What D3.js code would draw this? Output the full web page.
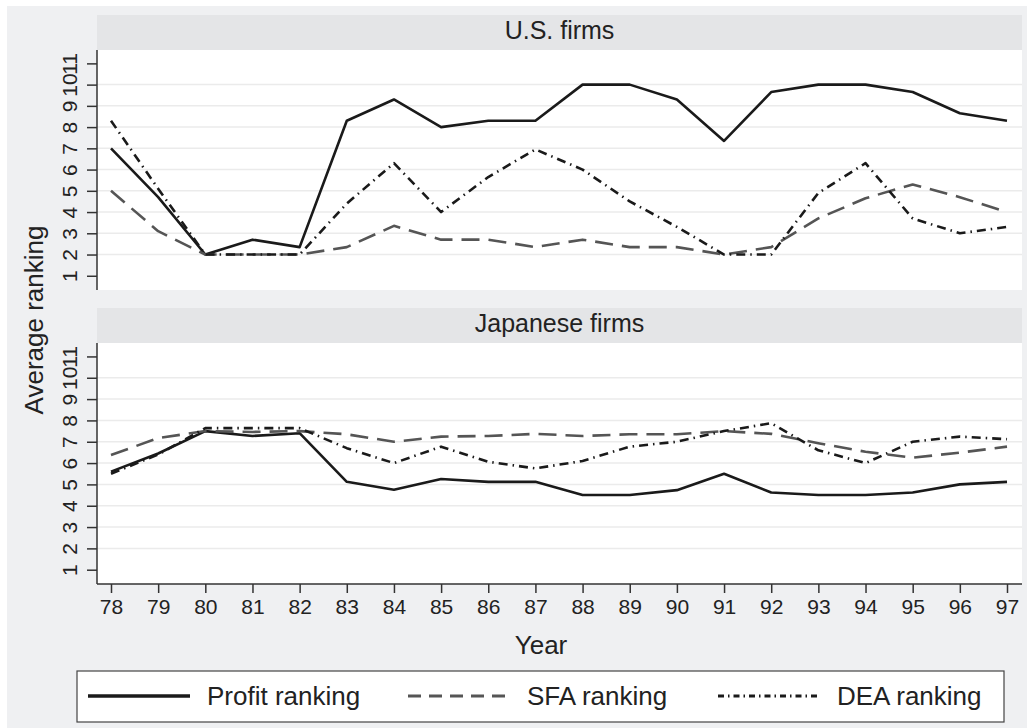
<!DOCTYPE html>
<html>
<head>
<meta charset="utf-8">
<script src="https://cdn.jsdelivr.net/npm/d3@7"></script>
<style>
  body { margin: 0; background: #fff; }
  svg { display: block; font-family: "Liberation Sans", Arial, Helvetica, sans-serif; }
  .grid line { stroke: #ebebeb; stroke-width: 1.5; }
  .axis path, .axis line { stroke: #333; stroke-width: 1.5; }
  .axis text { fill: #222; font-size: 21px; }
</style>
</head>
<body>
<div id="chart"></div>
<script>
// data
const years = [78, 79, 80, 81, 82, 83, 84, 85, 86, 87, 88, 89, 90, 91, 92, 93, 94, 95, 96, 97];
const yTicks = [1, 2, 3, 4, 5, 6, 7, 8, 9, 10, 11];
const gridTicks = [2, 3, 4, 5, 6, 7, 8, 9, 10];

const usProfit = [7.0, 4.7, 2.0, 2.7, 2.35, 8.3, 9.3, 8.0, 8.3, 8.3, 10.0, 10.0, 9.3, 7.35, 9.65, 10.0, 10.0, 9.65, 8.65, 8.3];
const usSFA    = [5.0, 3.1, 2.0, 2.0, 2.0, 2.35, 3.35, 2.7, 2.7, 2.35, 2.7, 2.35, 2.35, 2.0, 2.35, 3.7, 4.65, 5.3, 4.7, 4.0];
const usDEA    = [8.3, 5.1, 2.0, 2.0, 2.0, 4.4, 6.3, 4.0, 5.65, 6.95, 6.0, 4.5, 3.3, 2.0, 2.0, 4.9, 6.3, 3.7, 3.0, 3.3];

const jpProfit = [5.6, 6.45, 7.5, 7.27, 7.4, 5.12, 4.75, 5.25, 5.12, 5.12, 4.5, 4.5, 4.73, 5.5, 4.62, 4.5, 4.5, 4.62, 5.0, 5.12];
const jpSFA    = [6.38, 7.17, 7.5, 7.46, 7.5, 7.35, 7.0, 7.24, 7.27, 7.37, 7.27, 7.35, 7.35, 7.5, 7.37, 6.93, 6.53, 6.25, 6.49, 6.77];
const jpDEA    = [5.5, 6.4, 7.64, 7.64, 7.64, 6.7, 6.0, 6.77, 6.06, 5.75, 6.1, 6.77, 7.0, 7.5, 7.87, 6.6, 6.0, 7.0, 7.24, 7.12];

const panelTitles = ["U.S. firms", "Japanese firms"];
const seriesNames = ["Profit ranking", "SFA ranking", "DEA ranking"];

const width = 1027, height = 728;
const plotLeft = 97, plotRight = 1022;

// panel geometry: strip on top, plot area below
const panels = [
  { title: panelTitles[0], stripTop: 15, plotTop: 50, plotBottom: 290, series: [usProfit, usSFA, usDEA] },
  { title: panelTitles[1], stripTop: 308, plotTop: 343, plotBottom: 584, series: [jpProfit, jpSFA, jpDEA] }
];

const styles = [
  { stroke: "#1a1a1a", dash: null, width: 2.6 },
  { stroke: "#555", dash: "18,9", width: 2.6 },
  { stroke: "#1a1a1a", dash: "9,5,1.5,5", width: 2.6 }
];

const xScale = d3.scaleLinear()
  .domain([78, 97])
  .range([111, 1007]);

const svg = d3.select("#chart")
  .append("svg")
    .attr("width", width)
    .attr("height", height)
    .attr("viewBox", `0 0 ${width} ${height}`);

// outer background
svg.append("rect")
  .attr("x", 7).attr("y", 6)
  .attr("width", width - 7).attr("height", height - 6)
  .attr("fill", "#eff0f2");

panels.forEach((p, pi) => {
  const yScale = d3.scaleLinear()
    .domain([0.33, 11.63])
    .range([p.plotBottom, p.plotTop]);

  // strip
  svg.append("rect")
    .attr("x", plotLeft).attr("y", p.stripTop)
    .attr("width", plotRight - plotLeft).attr("height", p.plotTop - p.stripTop)
    .attr("fill", "#e4e5e7");

  svg.append("text")
    .attr("x", (plotLeft + plotRight) / 2)
    .attr("y", p.plotTop - 11)
    .attr("text-anchor", "middle")
    .attr("font-size", 25)
    .attr("fill", "#222")
    .text(p.title);

  // plot area
  svg.append("rect")
    .attr("x", plotLeft).attr("y", p.plotTop)
    .attr("width", plotRight - plotLeft).attr("height", p.plotBottom - p.plotTop)
    .attr("fill", "#fff");

  // grid
  svg.append("g")
    .attr("class", "grid")
    .selectAll("line")
    .data(gridTicks)
    .enter()
    .append("line")
      .attr("x1", plotLeft)
      .attr("x2", plotRight)
      .attr("y1", d => yScale(d))
      .attr("y2", d => yScale(d));

  // y axis
  const yAxis = svg.append("g")
    .attr("class", "axis")
    .attr("transform", `translate(${plotLeft},0)`)
    .call(d3.axisLeft(yScale).tickValues(yTicks).tickSize(10).tickSizeOuter(0));

  yAxis.select(".domain")
    .attr("d", `M0,${p.plotTop}V${p.plotBottom}`);

  yAxis.selectAll(".tick text")
    .attr("transform", "rotate(-90)")
    .attr("x", 0)
    .attr("y", -20)
    .attr("dy", 0)
    .style("text-anchor", "middle");

  // lines
  const line = d3.line()
    .x((d, i) => xScale(years[i]))
    .y(d => yScale(d));

  p.series.forEach((s, si) => {
    svg.append("path")
      .datum(s)
      .attr("fill", "none")
      .attr("stroke", styles[si].stroke)
      .attr("stroke-width", styles[si].width)
      .attr("stroke-dasharray", styles[si].dash)
      .attr("stroke-linejoin", "round")
      .attr("d", line);
  });

  // x axis only under the bottom panel
  if (pi === panels.length - 1) {
    const xAxis = svg.append("g")
      .attr("class", "axis")
      .attr("transform", `translate(0,${p.plotBottom})`)
      .call(d3.axisBottom(xScale).tickValues(years).tickSize(9).tickSizeOuter(0).tickFormat(d3.format("d")));

    xAxis.select(".domain")
      .attr("d", `M${plotLeft},0H${plotRight}`);

    xAxis.selectAll(".tick text")
      .attr("y", 15)
      .attr("dy", "0.71em");
  }
});

// axis titles
svg.append("text")
  .attr("transform", "translate(43,320) rotate(-90)")
  .attr("text-anchor", "middle")
  .attr("font-size", 26)
  .attr("fill", "#222")
  .text("Average ranking");

svg.append("text")
  .attr("x", 541)
  .attr("y", 654)
  .attr("text-anchor", "middle")
  .attr("font-size", 26)
  .attr("fill", "#222")
  .text("Year");

// legend
const legend = svg.append("g");
legend.append("rect")
  .attr("x", 77).attr("y", 671)
  .attr("width", 927).attr("height", 51)
  .attr("fill", "#fff")
  .attr("stroke", "#444")
  .attr("stroke-width", 1.2);

const legendX = [88, 408, 718];
const legendItems = legend.selectAll("g.item")
  .data(seriesNames)
  .enter()
  .append("g")
    .attr("class", "item")
    .attr("transform", (d, i) => `translate(${legendX[i]},696)`);

legendItems.append("line")
  .attr("x1", 0).attr("x2", 102)
  .attr("y1", 0).attr("y2", 0)
  .attr("stroke", (d, i) => styles[i].stroke)
  .attr("stroke-width", (d, i) => i === 0 ? 3.5 : 3)
  .attr("stroke-dasharray", (d, i) => i === 1 ? "13,8" : i === 2 ? "6,4,1.5,4" : null);

legendItems.append("text")
  .attr("x", 119)
  .attr("y", 9)
  .attr("font-size", 26)
  .attr("fill", "#222")
  .text(d => d);
</script>
</body>
</html>
